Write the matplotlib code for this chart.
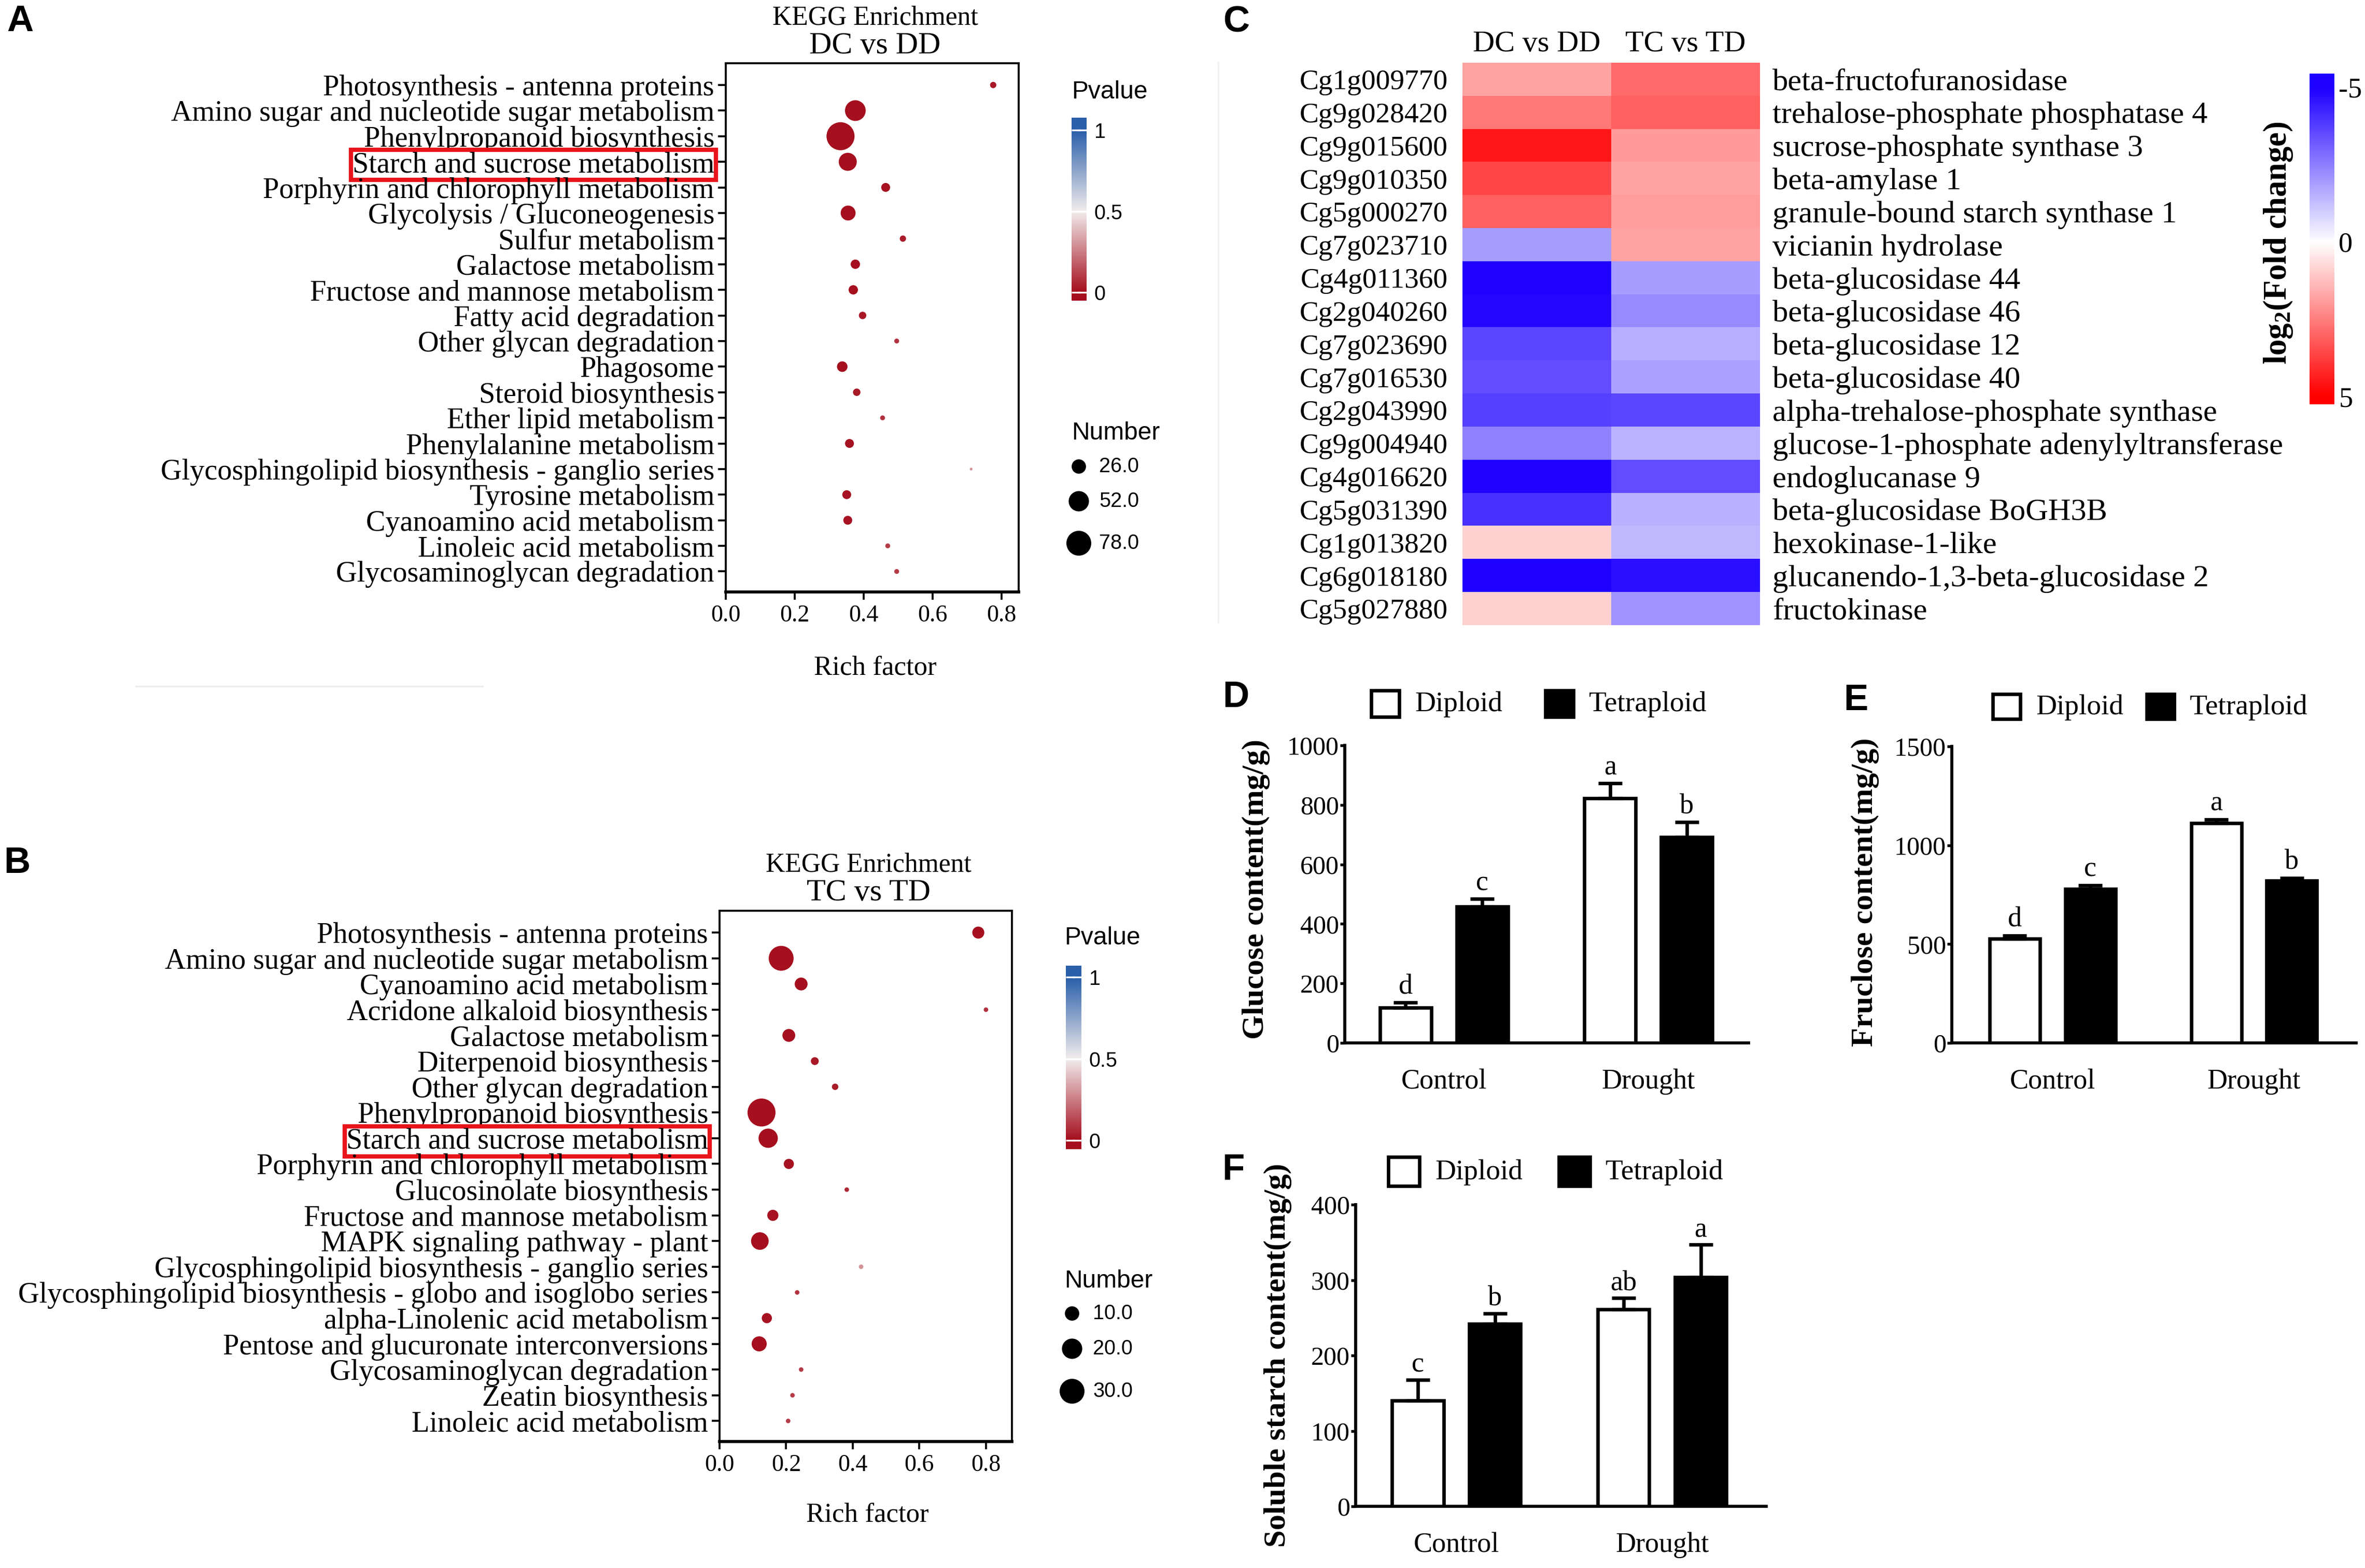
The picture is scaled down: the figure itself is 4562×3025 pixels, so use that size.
import numpy as np
import matplotlib
matplotlib.use('Agg')
import matplotlib.pyplot as plt
from matplotlib.colors import LinearSegmentedColormap
from matplotlib.patches import Rectangle

plt.rcParams['font.family'] = 'Liberation Serif'
plt.rcParams['mathtext.fontset'] = 'custom'
plt.rcParams['mathtext.rm'] = 'Liberation Serif'
plt.rcParams['mathtext.bf'] = 'Liberation Serif:bold'
plt.rcParams['mathtext.it'] = 'Liberation Serif:italic'
SANS = 'Liberation Sans'

# %% data - KEGG enrichment DC vs DD
terms_a = ['Photosynthesis - antenna proteins', 'Amino sugar and nucleotide sugar metabolism',
           'Phenylpropanoid biosynthesis', 'Starch and sucrose metabolism',
           'Porphyrin and chlorophyll metabolism', 'Glycolysis / Gluconeogenesis',
           'Sulfur metabolism', 'Galactose metabolism', 'Fructose and mannose metabolism',
           'Fatty acid degradation', 'Other glycan degradation', 'Phagosome',
           'Steroid biosynthesis', 'Ether lipid metabolism', 'Phenylalanine metabolism',
           'Glycosphingolipid biosynthesis - ganglio series', 'Tyrosine metabolism',
           'Cyanoamino acid metabolism', 'Linoleic acid metabolism', 'Glycosaminoglycan degradation']
rich_a = [0.776, 0.376, 0.333, 0.354, 0.464, 0.355, 0.514, 0.376, 0.370, 0.397,
          0.496, 0.338, 0.380, 0.455, 0.359, 0.712, 0.351, 0.354, 0.470, 0.496]
count_a = [5, 54, 99, 41, 10, 28, 5, 11, 11, 7, 3, 14, 7, 3, 10, 1, 10, 10, 3, 3]
pval_a = [0.02, 0.0, 0.0, 0.0, 0.01, 0.0, 0.03, 0.0, 0.0, 0.02,
          0.08, 0.0, 0.02, 0.08, 0.01, 0.3, 0.01, 0.01, 0.1, 0.1]
legend_counts_a = [26, 52, 78]

# %% data - KEGG enrichment TC vs TD
terms_b = ['Photosynthesis - antenna proteins', 'Amino sugar and nucleotide sugar metabolism',
           'Cyanoamino acid metabolism', 'Acridone alkaloid biosynthesis', 'Galactose metabolism',
           'Diterpenoid biosynthesis', 'Other glycan degradation', 'Phenylpropanoid biosynthesis',
           'Starch and sucrose metabolism', 'Porphyrin and chlorophyll metabolism',
           'Glucosinolate biosynthesis', 'Fructose and mannose metabolism',
           'MAPK signaling pathway - plant', 'Glycosphingolipid biosynthesis - ganglio series',
           'Glycosphingolipid biosynthesis - globo and isoglobo series',
           'alpha-Linolenic acid metabolism', 'Pentose and glucuronate interconversions',
           'Glycosaminoglycan degradation', 'Zeatin biosynthesis', 'Linoleic acid metabolism']
rich_b = [0.777, 0.185, 0.245, 0.800, 0.208, 0.286, 0.347, 0.126, 0.146, 0.208,
          0.382, 0.160, 0.121, 0.425, 0.233, 0.142, 0.119, 0.245, 0.219, 0.206]
count_b = [7, 30, 8, 1, 8, 3, 2, 38, 18, 5, 1, 6, 15, 1, 1, 5, 11, 1, 1, 1]
pval_b = [0.0, 0.0, 0.0, 0.08, 0.0, 0.02, 0.03, 0.0, 0.0, 0.01,
          0.06, 0.01, 0.0, 0.3, 0.08, 0.01, 0.0, 0.1, 0.1, 0.1]
legend_counts_b = [10, 20, 30]
rich_ticks = [0.0, 0.2, 0.4, 0.6, 0.8]
pv_ticks = [0, 0.5, 1]

# %% data - heatmap
comparisons = ['DC vs DD', 'TC vs TD']
gene_ids = ['Cg1g009770', 'Cg9g028420', 'Cg9g015600', 'Cg9g010350', 'Cg5g000270', 'Cg7g023710',
            'Cg4g011360', 'Cg2g040260', 'Cg7g023690', 'Cg7g016530', 'Cg2g043990', 'Cg9g004940',
            'Cg4g016620', 'Cg5g031390', 'Cg1g013820', 'Cg6g018180', 'Cg5g027880']
gene_names = ['beta-fructofuranosidase', 'trehalose-phosphate phosphatase 4',
              'sucrose-phosphate synthase 3', 'beta-amylase 1', 'granule-bound starch synthase 1',
              'vicianin hydrolase', 'beta-glucosidase 44', 'beta-glucosidase 46',
              'beta-glucosidase 12', 'beta-glucosidase 40', 'alpha-trehalose-phosphate synthase',
              'glucose-1-phosphate adenylyltransferase', 'endoglucanase 9',
              'beta-glucosidase BoGH3B', 'hexokinase-1-like', 'glucanendo-1,3-beta-glucosidase 2',
              'fructokinase']
fc_dc = [1.8, 2.65, 4.57, 3.6, 3.1, -1.94, -4.95, -4.85, -3.6, -3.5, -3.75, -2.5,
         -4.95, -4.06, 0.88, -5.0, 0.9]
fc_tc = [2.9, 3.1, 1.98, 1.8, 1.95, 1.8, -1.94, -2.27, -1.6, -1.86, -3.6, -1.5,
         -3.5, -1.55, -1.4, -4.7, -2.1]
fc_ticks = [-5, 0, 5]

# %% data - sugar contents
conditions = ['Control', 'Drought']
glucose_dip = [118, 823]
glucose_tet = [458, 692]
glucose_dip_err = [18, 49]
glucose_tet_err = [26, 50]
glucose_dip_let = ['d', 'a']
glucose_tet_let = ['c', 'b']

fructose_dip = [526, 1113]
fructose_tet = [780, 822]
fructose_dip_err = [18, 18]
fructose_tet_err = [18, 13]
fructose_dip_let = ['d', 'a']
fructose_tet_let = ['c', 'b']

starch_dip = [140, 261]
starch_tet = [242, 304]
starch_dip_err = [28, 15]
starch_tet_err = [14, 43]
starch_dip_let = ['c', 'ab']
starch_tet_let = ['b', 'a']

# %% figure setup
W, H = 4562, 3025
fig = plt.figure(figsize=(W / 300, H / 300), dpi=300)


def box(l, t, r, b):
    # pixel box -> figure fraction rect
    return [l / W, 1 - b / H, (r - l) / W, (b - t) / H]


ov = fig.add_axes([0, 0, 1, 1], zorder=10)
ov.set_xlim(0, W)
ov.set_ylim(H, 0)
ov.axis('off')
ov.patch.set_visible(False)

pv_cmap = LinearSegmentedColormap.from_list('pv', ['#A50F1E', '#F2EDED', '#2A5FAA'])
fc_cmap = LinearSegmentedColormap.from_list('fc', ['#1E00FF', '#FFFFFF', '#FF0000'])


def kegg_dotplot(rect, terms, rich, count, pval, xmax, k, comp, cx, ty):
    ax = fig.add_axes(box(*rect))
    y = np.arange(len(terms))
    ax.scatter(rich, y, s=k * np.array(count), c=pval, cmap=pv_cmap, vmin=0, vmax=1,
               edgecolors='none', zorder=3)
    ax.set_ylim(len(terms) - 1 + 0.8, -0.85)
    ax.set_xlim(0, xmax)
    ax.set_yticks(y)
    ax.set_yticklabels(terms, fontsize=13.5)
    ax.set_xticks(rich_ticks)
    ax.set_xticklabels([f'{t:.1f}' for t in rich_ticks], fontsize=11)
    ax.tick_params(axis='y', length=3.5, width=0.9, pad=1.8)
    ax.tick_params(axis='x', length=3.5, width=0.9, pad=2.3)
    for sp in ax.spines.values():
        sp.set_linewidth(0.9)
    ax.spines['bottom'].set_linewidth(1.4)
    lbl = ax.get_yticklabels()[terms.index('Starch and sucrose metabolism')]
    lbl.set_bbox(dict(boxstyle='square,pad=0.05', fc='white', ec='#E8141B', lw=2.0))
    ov.text(cx, ty, 'KEGG Enrichment', ha='center', va='center', fontsize=12.4)
    ov.text(cx, ty + 54, comp, ha='center', va='center', fontsize=14.4)
    return ax


def pvalue_bar(rect, lo, hi, tx, ty):
    cax = fig.add_axes(box(*rect))
    cax.imshow(np.linspace(lo, hi, 256)[:, None], cmap=pv_cmap, vmin=0, vmax=1,
               aspect='auto', origin='lower', extent=[0, 1, lo, hi])
    cax.set_xlim(0, 1)
    cax.set_ylim(lo, hi)
    cax.set_xticks([])
    cax.yaxis.tick_right()
    cax.set_yticks(pv_ticks)
    cax.set_yticklabels(['0', '0.5', '1'], fontsize=9.5, family=SANS)
    cax.tick_params(axis='y', direction='in', color='white', labelcolor='black',
                    length=4, width=0.8, left=True, right=True, pad=3.6)
    for sp in cax.spines.values():
        sp.set_visible(False)
    ov.text(tx, ty, 'Pvalue', ha='left', va='center', fontsize=11.5, family=SANS)


def number_legend(counts, k, x, ys, lx, tx, ty):
    ov.text(tx, ty, 'Number', ha='left', va='center', fontsize=11.5, family=SANS)
    ov.scatter([x] * len(counts), ys, s=k * np.array(counts), color='black', edgecolors='none')
    for c, yy in zip(counts, ys):
        ov.text(lx, yy, f'{c:.1f}', ha='left', va='center', fontsize=9.5, family=SANS)


# %% A
kegg_dotplot((1400, 122, 1965, 1142), terms_a, rich_a, count_a, pval_a, 0.85, 1.7,
             'DC vs DD', 1688, 35)
ov.text(1688, 1289, 'Rich factor', ha='center', va='center', fontsize=12.7)
pvalue_bar((2067, 227, 2096, 580), -0.051, 1.077, 2067, 177)
number_legend(legend_counts_a, 1.7, 2081, [900, 967, 1048], 2120, 2067, 835)

# %% B
kegg_dotplot((1388, 1757, 1952, 2781), terms_b, rich_b, count_b, pval_b, 0.878, 4.42,
             'TC vs TD', 1675, 1669)
ov.text(1673, 2922, 'Rich factor', ha='center', va='center', fontsize=12.7)
pvalue_bar((2056, 1863, 2086, 2217), -0.054, 1.07, 2053, 1810)
number_legend(legend_counts_b, 4.42, 2068, [2534, 2602, 2684], 2108, 2053, 2472)

# %% C heatmap
axc = fig.add_axes(box(2821, 121, 3395, 1206))
axc.imshow(np.column_stack([fc_dc, fc_tc]), cmap=fc_cmap, vmin=-5, vmax=5,
           aspect='auto', interpolation='nearest')
axc.set_yticks(range(len(gene_ids)))
axc.set_yticklabels(gene_ids, fontsize=13.3)
axc.tick_params(axis='y', length=0, pad=6.7)
axc.xaxis.tick_top()
axc.set_xticks(range(len(comparisons)))
axc.set_xticklabels(comparisons, fontsize=14)
axc.tick_params(axis='x', length=0, pad=2.5)
for sp in axc.spines.values():
    sp.set_visible(False)
axr = axc.twinx()
axr.set_ylim(len(gene_ids) - 0.5, -0.5)
axr.set_yticks(range(len(gene_names)))
axr.set_yticklabels(gene_names, fontsize=14.5)
axr.tick_params(axis='y', length=0, pad=5.8)
for sp in axr.spines.values():
    sp.set_visible(False)

cax_c = fig.add_axes(box(4455, 142, 4503, 780))
lo, hi = -5.44, 5.25
cax_c.imshow(np.linspace(lo, hi, 256)[:, None], cmap=fc_cmap, vmin=-5, vmax=5,
             aspect='auto', extent=[0, 1, hi, lo])
cax_c.set_xticks([])
cax_c.yaxis.tick_right()
cax_c.set_yticks(fc_ticks)
cax_c.set_yticklabels([str(t) for t in fc_ticks], fontsize=13)
cax_c.tick_params(axis='y', length=0, pad=2)
for sp in cax_c.spines.values():
    sp.set_visible(False)
ov.text(4395, 469, r'$\mathbf{log_2(Fold\ change)}$', rotation=90, ha='center', va='center',
        fontsize=15)


# %% D E F bar charts
def bar_panel(rect, xlim, ymax, yticks, dip, tet, dip_err, tet_err, dip_let, tet_let, off):
    ax = fig.add_axes(box(*rect))
    x = np.arange(len(conditions))
    xd, xt = x - 0.1875, x + 0.1875
    ax.bar(xd, dip, 0.25, color='white', edgecolor='black', linewidth=1.6, zorder=2)
    ax.bar(xt, tet, 0.25, color='black', edgecolor='black', linewidth=1.6, zorder=2)
    for xs, vals, errs, lets in ((xd, dip, dip_err, dip_let), (xt, tet, tet_err, tet_let)):
        ax.errorbar(xs, vals, yerr=[np.zeros(len(vals)), errs], fmt='none', ecolor='black',
                    elinewidth=1.6, capsize=5.5, capthick=1.6, zorder=3)
        for xi, v, e, l in zip(xs, vals, errs, lets):
            ax.text(xi, v + e + off, l, ha='center', va='bottom', fontsize=13)
    ax.set_xlim(*xlim)
    ax.set_ylim(0, ymax)
    ax.set_xticks(x)
    ax.set_xticklabels(conditions, fontsize=13)
    ax.tick_params(axis='x', length=0, pad=12)
    ax.set_yticks(yticks)
    ax.set_yticklabels([str(t) for t in yticks], fontsize=12)
    ax.tick_params(axis='y', length=2.2, width=1.3, pad=0.5)
    ax.spines['top'].set_visible(False)
    ax.spines['right'].set_visible(False)
    ax.spines['left'].set_linewidth(1.4)
    ax.spines['bottom'].set_linewidth(1.4)
    return ax


def bar_legend(yc, x_white, x_black, w, h):
    ov.add_patch(Rectangle((x_white, yc - h / 2), w, h, fc='white', ec='black', lw=1.6))
    ov.add_patch(Rectangle((x_black, yc - h / 2), w, h, fc='black', ec='black', lw=1.6))
    ov.text(x_white + w + 30, yc + 2, 'Diploid', ha='left', va='center', fontsize=13.3)
    ov.text(x_black + w + 30, yc + 2, 'Tetraploid', ha='left', va='center', fontsize=13.3)


bar_panel((2594, 1438, 3373, 2012), (-0.485, 1.49), 1000, [0, 200, 400, 600, 800, 1000],
          glucose_dip, glucose_tet, glucose_dip_err, glucose_tet_err,
          glucose_dip_let, glucose_tet_let, 8)
bar_legend(1357, 2645, 2981, 54, 51)
ov.text(2423, 1716, 'Glucose content(mg/g)', rotation=90, ha='center', va='center',
        fontsize=14.5, fontweight='bold')

bar_panel((3765, 1440, 4545, 2012), (-0.5, 1.507), 1500, [0, 500, 1000, 1500],
          fructose_dip, fructose_tet, fructose_dip_err, fructose_tet_err,
          fructose_dip_let, fructose_tet_let, 14)
bar_legend(1363, 3844, 4141, 53, 48)
ov.text(3598, 1721, 'Fruclose content(mg/g)', rotation=90, ha='center', va='center',
        fontsize=14.5, fontweight='bold')

bar_panel((2615, 2324, 3407, 2906), (-0.49, 1.506), 400, [0, 100, 200, 300, 400],
          starch_dip, starch_tet, starch_dip_err, starch_tet_err,
          starch_dip_let, starch_tet_let, 2)
bar_legend(2260, 2678, 3007, 60, 56)
ov.text(2465, 2615, 'Soluble starch content(mg/g)', rotation=90, ha='center', va='center',
        fontsize=14.5, fontweight='bold')

# faint leftover rules from the original composite
ov.plot([262, 931], [1324, 1324], color='#EDEDED', lw=0.8)
ov.plot([2350, 2350], [120, 1200], color='#F2F2F2', lw=0.8)

# panel letters
for letter, (lx, ly) in zip('ABCDEF', [(39, 42), (33, 1666), (2385, 44), (2384, 1346),
                                       (3580, 1352), (2379, 2258)]):
    ov.text(lx, ly, letter, ha='center', va='center', fontsize=17, fontweight='bold', family=SANS)

fig.savefig('out.png', dpi=300)
